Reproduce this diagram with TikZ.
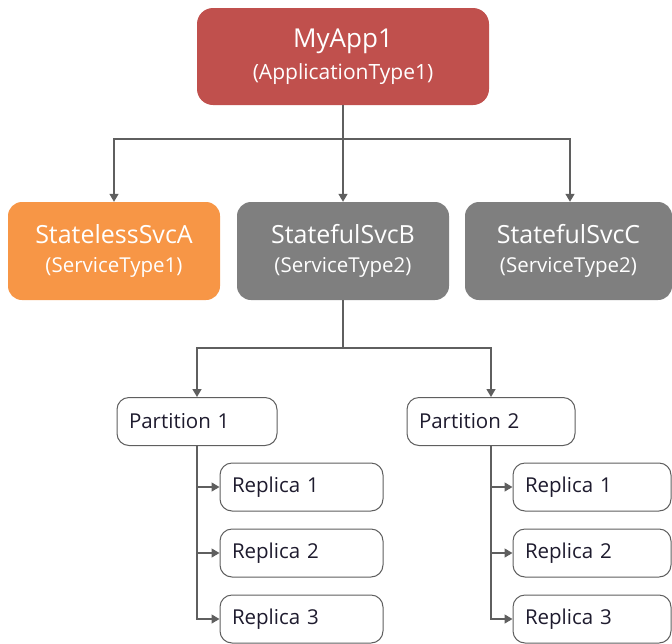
\documentclass[tikz,border=0pt]{standalone}
\usepackage{fontspec}
\setmainfont{Open Sans}
\usetikzlibrary{arrows.meta,positioning}
\definecolor{appred}{HTML}{C0504D}
\definecolor{svcorange}{HTML}{F79646}
\definecolor{svcgray}{HTML}{7F7F7F}
\definecolor{linegray}{HTML}{5F5F5F}
\definecolor{textdark}{HTML}{1E1B2E}

\begin{document}
\begin{tikzpicture}[x=1pt,y=-1pt,>={Triangle[width=9pt,length=8pt]},
  conn/.style={draw=linegray,line width=1.4pt},
  app node/.style={rounded corners=16pt,fill=appred,text=white,align=center,
    minimum width=292pt,minimum height=97pt,inner sep=0pt},
  svc node/.style={rounded corners=14pt,text=white,align=center,
    minimum width=212pt,minimum height=98pt,inner sep=0pt},
  part node/.style={rounded corners=12pt,draw=linegray,line width=1pt,fill=white,
    text=textdark,align=left,minimum height=48pt,inner xsep=12pt,inner ysep=0pt,
    font=\fontsize{20.5}{24}\selectfont}]

  \useasboundingbox (0,0) rectangle (672,643);

  \node[app node] (app) at (343,56.5)
    {{\fontsize{26}{30}\selectfont MyApp1}\\[9pt]{\fontsize{21}{24}\selectfont (ApplicationType1)}};

  \node[svc node,fill=svcorange] (svcA) at (114,251)
    {{\fontsize{25}{29}\selectfont StatelessSvcA}\\[12pt]{\fontsize{20.5}{24}\selectfont (ServiceType1)}};
  \node[svc node,fill=svcgray] (svcB) at (343,251)
    {{\fontsize{25}{29}\selectfont StatefulSvcB}\\[12pt]{\fontsize{20.5}{24}\selectfont (ServiceType2)}};
  \node[svc node,fill=svcgray,minimum width=207pt] (svcC) at (568.5,251)
    {{\fontsize{25}{29}\selectfont StatefulSvcC}\\[12pt]{\fontsize{20.5}{24}\selectfont (ServiceType2)}};

  \node[part node,text width=136pt] (part1) at (197,421.5) {Partition 1};
  \node[part node,text width=144pt] (part2) at (491,421.5) {Partition 2};

  \node[part node,text width=139pt] (rep11) at (301.5,487) {Replica 1};
  \node[part node,text width=139pt,below=17pt of rep11] (rep12) {Replica 2};
  \node[part node,text width=139pt,below=17pt of rep12] (rep13) {Replica 3};

  \node[part node,text width=134pt] (rep21) at (592,487) {Replica 1};
  \node[part node,text width=134pt,below=17pt of rep21] (rep22) {Replica 2};
  \node[part node,text width=134pt,below=17pt of rep22] (rep23) {Replica 3};

  \coordinate (bus1) at (343,139);
  \coordinate (bus2) at (343,348);

  \draw[conn] (app.south) -- (bus1);
  \draw[conn,->] (bus1) -| (svcA.north);
  \draw[conn,->] (bus1) -- (svcB.north);
  \draw[conn,->] (bus1) -| ([xshift=1.5pt]svcC.north);

  \draw[conn] (svcB.south) -- (bus2);
  \draw[conn,->] (bus2) -| (part1.north);
  \draw[conn,->] (bus2) -| (part2.north);

  \foreach \p in {1,2} {
    \foreach \r in {1,2,3} {
      \draw[conn,->] (part\p.south) |- (rep\p\r.west);
    }
  }
\end{tikzpicture}
\end{document}
